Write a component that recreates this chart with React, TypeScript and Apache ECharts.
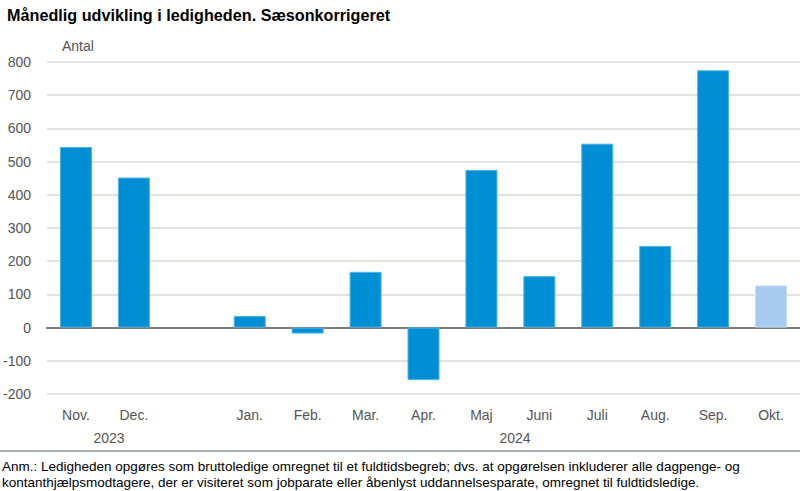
import React, { useEffect, useRef } from "react";
import * as echarts from "echarts";

const categories = ["Nov.", "Dec.", "", "Jan.", "Feb.", "Mar.", "Apr.", "Maj", "Juni", "Juli", "Aug.", "Sep.", "Okt."];
const values: (number | null)[] = [544, 452, null, 35, -18, 168, -158, 475, 155, 554, 246, 775, 127];
const preliminaryIndex = 12;
const yearLabels = [
  { text: "2023", x: 109 },
  { text: "2024", x: 515 },
];
const titleText = "Månedlig udvikling i ledigheden. Sæsonkorrigeret";
const unitText = "Antal";
const noteLines = [
  "Anm.: Ledigheden opgøres som bruttoledige omregnet til et fuldtidsbegreb; dvs. at opgørelsen inkluderer alle dagpenge- og",
  "kontanthjælpsmodtagere, der er visiteret som jobparate eller åbenlyst uddannelsesparate, omregnet til fuldtidsledige.",
];

const FONT = "'Liberation Sans', Arial, sans-serif";
const NARROW = "'Liberation Sans Narrow', 'Liberation Sans', Arial, sans-serif";

export default function App() {
  const ref = useRef<HTMLDivElement>(null);
  useEffect(() => {
    if (!ref.current) return;
    const chart = echarts.init(ref.current, undefined, { renderer: "svg" });
    chart.setOption({
      animation: false,
      backgroundColor: "#ffffff",
      title: {
        text: titleText,
        left: 2,
        top: 2,
        textStyle: { fontFamily: FONT, fontWeight: "bold", fontSize: 16.2, color: "#000" },
      },
      grid: { left: 47, right: 0, top: 62, height: 332 },
      xAxis: {
        type: "category",
        data: categories,
        axisTick: { show: false },
        axisLine: { onZero: true, lineStyle: { color: "#7f7e73", width: 2 } },
        axisLabel: { color: "#555555", fontSize: 14, fontFamily: NARROW, margin: 14 },
      },
      yAxis: {
        type: "value",
        min: -200,
        max: 800,
        interval: 100,
        axisLine: { show: false },
        axisTick: { show: false },
        axisLabel: { color: "#555555", fontSize: 14, fontFamily: NARROW, margin: 16 },
        splitLine: { lineStyle: { color: "#d9d9d3", width: 1.5 } },
      },
      series: [
        {
          type: "bar",
          barWidth: 32,
          data: values.map((v, i) =>
            i === preliminaryIndex
              ? { value: v, itemStyle: { color: "#a6cbef", borderColor: "#c4ddf5" } }
              : v
          ),
          itemStyle: { color: "#008fd5", borderColor: "#4db3e6", borderWidth: 1 },
        },
      ],
      graphic: [
        {
          type: "text",
          left: 62,
          top: 39,
          style: { text: unitText, fill: "#555555", font: `14px ${NARROW}` },
        },
        ...yearLabels.map((y) => ({
          type: "text",
          x: y.x,
          y: 438,
          style: { text: y.text, fill: "#555555", font: `14px ${NARROW}`, align: "center", verticalAlign: "middle" },
        })),
        {
          type: "line",
          shape: { x1: 0, y1: 451, x2: 800, y2: 451 },
          style: { stroke: "#8a949e", lineWidth: 1.5 },
        },
        ...noteLines.map((t, i) => ({
          type: "text",
          x: 2,
          y: 466 + i * 16,
          style: { text: t, fill: "#000000", font: `13.5px ${FONT}`, verticalAlign: "middle" },
        })),
      ],
    });
    return () => chart.dispose();
  }, []);
  return (
    <div
      ref={ref}
      style={{ position: "fixed", left: 0, top: 0, width: 800, height: 491 }}
    />
  );
}
